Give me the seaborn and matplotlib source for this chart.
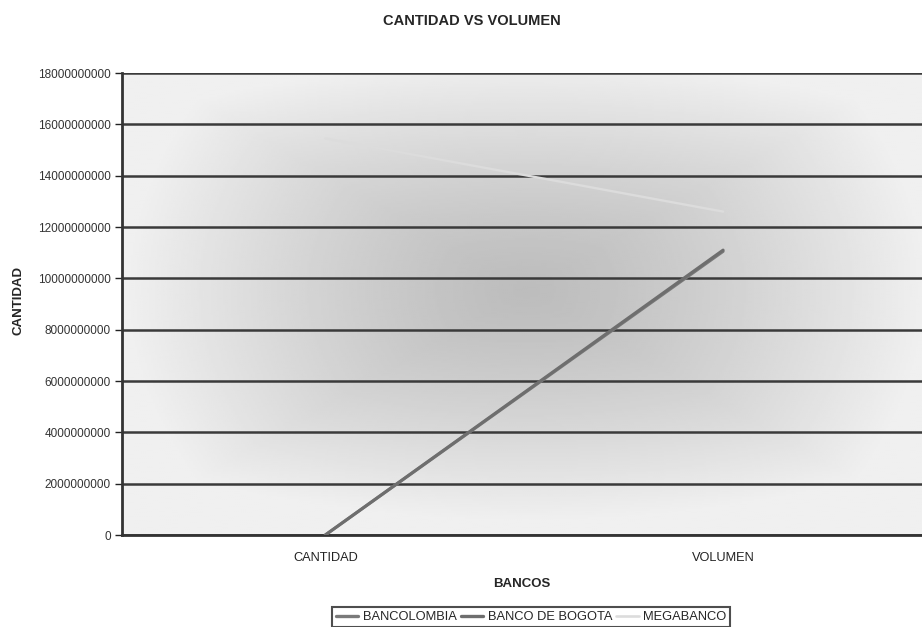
import numpy as np
import pandas as pd
import matplotlib
matplotlib.use("Agg")
import matplotlib.pyplot as plt
import seaborn as sns
from matplotlib.lines import Line2D

categories = ["CANTIDAD", "VOLUMEN"]
bancolombia = [0, 11050000000]
banco_de_bogota = [0, 11100000000]
megabanco = [15450000000, 12600000000]
series_names = ["BANCOLOMBIA", "BANCO DE BOGOTA", "MEGABANCO"]
y_ticks = list(range(0, 18000000001, 2000000000))

df = pd.DataFrame({
    "cat": categories * 3,
    "x": [0, 1] * 3,
    "value": bancolombia + banco_de_bogota + megabanco,
    "serie": [series_names[0]] * 2 + [series_names[1]] * 2 + [series_names[2]] * 2,
})

sns.set_theme(style="white")
plt.rcParams["font.family"] = ["Liberation Sans", "DejaVu Sans"]

fig = plt.figure(figsize=(9.22, 6.27), dpi=100)
ax = fig.add_axes([122 / 922, 1 - 535 / 627, 1 - 122 / 922, (535 - 73) / 627])

# centre gradient background
nx, ny = 400, 240
gx = np.linspace(0, 1, nx)
gy = np.linspace(0, 1, ny)
X, Y = np.meshgrid(gx, gy)
dx = np.abs(X - 0.505) / 0.5
dy = np.abs(Y - 0.53) / 0.5
d = np.clip(0.5 * np.maximum(dx, dy) + 0.5 * np.sqrt(dx ** 2 + dy ** 2), 0, 1)
val = 0.74 + (0.94 - 0.74) * d ** 1.3
ax.imshow(val, extent=[0, 1, 0, 1], transform=ax.transAxes, cmap="gray",
          vmin=0, vmax=1, origin="lower", aspect="auto", zorder=0,
          interpolation="bilinear")

palette = {"BANCOLOMBIA": "#7a7a7a", "BANCO DE BOGOTA": "#6e6e6e", "MEGABANCO": "#dcdcdc"}
widths = {"BANCOLOMBIA": 2.2, "BANCO DE BOGOTA": 2.2, "MEGABANCO": 1.7}
for name in series_names:
    sns.lineplot(data=df[df["serie"] == name], x="x", y="value", color=palette[name],
                 linewidth=widths[name], ax=ax, legend=False, zorder=3)

for t in y_ticks:
    ax.axhline(t, color="#3a3a3a", linewidth=1.8, zorder=2)

ax.set_xlim(-0.511, 1.484)
ax.set_ylim(0, 18000000000)
ax.set_yticks(y_ticks)
ax.set_yticklabels([str(t) for t in y_ticks], fontsize=8.5, color="#333333")
ax.set_xticks([0.5, 1.5])
ax.set_xticklabels([])
ax.set_xticks([0, 1], minor=True)
ax.set_xticklabels(categories, minor=True, fontsize=9.2, color="#222222")
ax.tick_params(axis="x", which="minor", length=0, pad=12)
ax.tick_params(axis="x", which="major", length=4, width=1, color="#222222", direction="out")
ax.tick_params(axis="y", length=5, width=1, color="#222222", direction="out", pad=3, left=True)
for s in ["top", "right"]:
    ax.spines[s].set_visible(False)
ax.spines["left"].set_color("#333333")
ax.spines["left"].set_linewidth(2)
ax.spines["bottom"].set_color("#333333")
ax.spines["bottom"].set_linewidth(2)

ax.set_xlabel("BANCOS", fontsize=9.5, fontweight="bold", labelpad=10)
ax.set_ylabel("")
fig.text(18 / 922, 1 - 300 / 627, "CANTIDAD", fontsize=9.5, fontweight="bold",
         rotation=90, ha="center", va="center")
fig.text(472 / 922, 1 - 21 / 627, "CANTIDAD VS VOLUMEN", fontsize=10.5,
         fontweight="bold", ha="center", va="center")

handles = [Line2D([], [], color=palette[n], linewidth=widths[n] + 0.2) for n in series_names]
leg = fig.legend(handles, series_names, loc="center", bbox_to_anchor=(531 / 922, 1 - 617 / 627),
                 ncol=3, fontsize=9.3, frameon=True, fancybox=False, handlelength=1.75,
                 handletextpad=0.35, columnspacing=0.3, borderpad=0.3, borderaxespad=0)
leg.get_frame().set_edgecolor("#222222")
leg.get_frame().set_linewidth(1.5)

fig.savefig("out.png", dpi=100)
